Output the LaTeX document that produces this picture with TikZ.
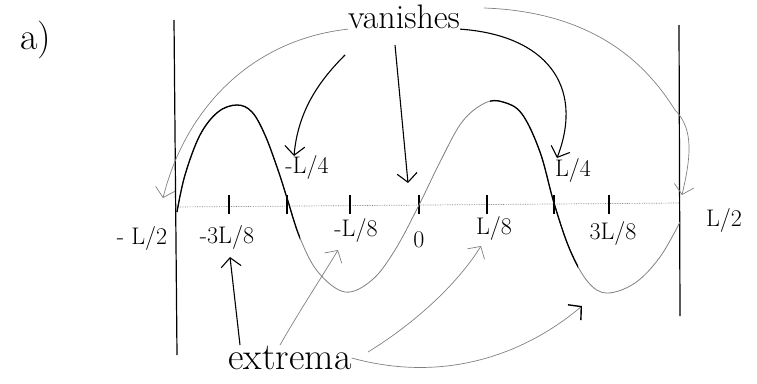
\documentclass[tikz,border=0pt]{standalone}
\usepackage{tikz}
\usetikzlibrary{arrows.meta}

\newcommand{\wavepath}{plot[smooth,tension=0.6] coordinates {
  (177,212) (185,175) (200,135) (218,112) (237,105) (252,112) (265,135)
  (278,170) (287,198) (300,238) (318,272) (345,292) (372,280) (395,250)
  (419,205) (440,162) (462,122) (485,103) (503,102) (522,114) (540,152)
  (554,203) (570,250) (588,282) (607,293) (635,283) (660,257) (680,222)}}

\begin{document}
\begin{tikzpicture}[x=1pt,y=-1pt,
  wall/.style={line width=1.2pt},
  axisline/.style={densely dotted,gray,line width=0.7pt},
  tickmark/.style={line width=1.1pt},
  curve/.style={line width=1.3pt},
  faint/.style={gray,line width=0.8pt},
  lbl/.style={font=\fontsize{24}{26}\selectfont,inner sep=1pt},
  word/.style={font=\fontsize{34}{36}\selectfont,inner sep=0pt},
  arr/.style={-{Straight Barb[length=9pt,width=20pt]},line width=1.1pt},
  farr/.style={-{Straight Barb[length=9pt,width=20pt]},line width=0.7pt,gray}
]
\useasboundingbox (0,0) rectangle (757,383);

% walls and axis
\draw[wall] (174,20) -- (177,355);
\draw[wall] (679,25) -- (680,316);
\draw[axisline] (175,207) -- (680,203);
\foreach \x in {229,287,350,419,487,554,609}
  \draw[tickmark] (\x,195) -- (\x,214);

% the wave
\draw[faint] \wavepath;
\begin{scope}
  \clip (170,0) rectangle (300,383) (490,0) rectangle (578,383);
  \draw[curve] \wavepath;
\end{scope}

% labels
\node[word,font=\fontsize{38}{40}\selectfont] (part) at (36,40) {a)};
\node[lbl] (lm2) at (142,238) {- L/2};
\node[lbl] (lm38) at (227,237) {-3L/8};
\node[lbl] (lm4) at (307,167) {-L/4};
\node[lbl] (lm8) at (356,230) {-L/8};
\node[lbl] (l0) at (419,240) {0};
\node[lbl] (lp8) at (494,228) {L/8};
\node[lbl] (lp4) at (573,170) {L/4};
\node[lbl] (lp38) at (613,233) {3L/8};
\node[lbl] (lp2) at (724,220) {L/2};

\node[word] (van) at (404,17) {vanishes};
\node[word,font=\fontsize{38}{40}\selectfont] (ext) at (290,358) {extrema};

% arrow ends
\coordinate (vA) at (163,198);
\coordinate (vB) at (294,156);
\coordinate (vC) at (408,183);
\coordinate (vD) at (557,158);
\coordinate (vE) at (682,195);
\coordinate (sB) at (345,55);
\coordinate (sC) at (395,45);
\coordinate (sE) at (484,8);
\coordinate (eA) at (230,257);
\coordinate (eB) at (338,250);
\coordinate (eC) at (481,246);
\coordinate (eD) at (582,306);
\coordinate (xA) at (240,345);
\coordinate (xB) at (280,345);
\coordinate (xC) at (368,352);

% vanishes
\draw[farr] (van.south west) .. controls (250,40) and (185,110) .. (vA);
\draw[arr] (sB) .. controls (320,80) and (298,110) .. (vB);
\draw[arr] (sC) -- (vC);
\draw[arr] (van.south east) .. controls (545,35) and (585,85) .. (vD);
\draw[farr] (sE) .. controls (600,12) and (650,70) .. (675,110)
  .. controls (695,130) and (690,160) .. (vE);

% extrema
\draw[arr] (xA) -- (eA);
\draw[farr] (xB) .. controls (300,310) and (320,280) .. (eB);
\draw[farr] (xC) .. controls (420,320) and (460,280) .. (eC);
\draw[farr,-{Straight Barb[length=9pt,width=20pt,line width=1.4pt,color=black]}]
  (ext.east) .. controls (450,385) and (530,350) .. (eD);
\end{tikzpicture}
\end{document}
